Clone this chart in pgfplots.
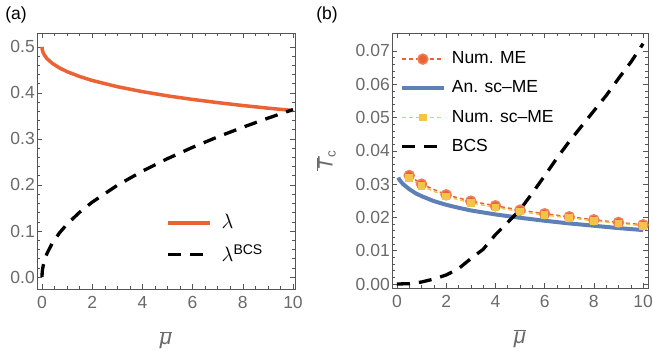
\documentclass[border=0pt]{standalone}
\usepackage{pgfplots}
\pgfplotsset{compat=1.18}
\usepackage{fontspec}
\setmainfont{Liberation Sans}
\definecolor{morange}{HTML}{EB6235}
\definecolor{mblue}{HTML}{5E81B5}
\definecolor{myellow}{HTML}{F2C447}
\definecolor{tickgray}{HTML}{6A6A6A}
\definecolor{framegray}{HTML}{555555}
\newcommand{\bigfont}{\fontsize{17.5}{21}\selectfont}
\pgfplotsset{
  mystyle/.style={
    scale only axis, anchor=south west,
    axis line style={framegray, line width=0.7pt},
    tick style={framegray, line width=0.5pt},
    major tick length=5pt, minor tick length=3pt,
    tick align=inside,
    scaled y ticks=false, scaled x ticks=false,
    xtick={0,2,4,6,8,10}, xticklabels={0,2,4,6,8,10},
    minor x tick num=3, minor y tick num=4,
    ticklabel style={font=\bigfont, text=tickgray},
    yticklabel style={inner sep=2pt},
    xticklabel style={inner sep=2pt, yshift=-5pt},
    xlabel={$\overline{\hbox{\itshape μ}}$},
    xlabel style={at={(axis description cs:0.5,-0.2)}, anchor=center, text=tickgray, font=\fontsize{22}{26}\selectfont},
    legend cell align=left,
    legend style={draw=none, fill=none, font=\bigfont, inner sep=0pt,
      nodes={inner sep=2pt}},
    legend image code/.code={\draw[mark repeat=2,mark phase=2,##1] plot coordinates {(0pt,0pt)(21pt,0pt)(42pt,0pt)};},
  }
}
\begin{document}
\bigfont
\begin{tikzpicture}[x=1pt,y=1pt]
\path[use as bounding box] (0,0) rectangle (653,357);
\node[font=\bigfont] at (16,342) {(a)};
\node[font=\bigfont] at (327,342) {(b)};
\begin{axis}[mystyle, at={(37pt,68pt)}, width=258pt, height=256pt,
  xmin=-0.2, xmax=10.08, ymin=-0.026, ymax=0.530,
  ytick={0,0.1,0.2,0.3,0.4,0.5}, yticklabels={0.0,0.1,0.2,0.3,0.4,0.5},
  legend style={at={(axis description cs:0.5,0.30)}, anchor=north west, row sep=9pt, column sep=8pt,
    font=\fontsize{22}{26}\selectfont},
]
\addplot[morange, line width=3.5pt] coordinates {
(0,0.5) (0.005,0.4958) (0.01,0.4940) (0.02,0.4916) (0.05,0.4868) (0.1,0.4816)
(0.2,0.4743) (0.4,0.4645) (0.7,0.4540) (1,0.4460) (1.5,0.4355) (2,0.4269)
(3,0.4134) (4,0.4026) (5,0.3935) (6,0.3857) (7,0.3788) (8,0.3725) (9,0.3668) (10,0.3616)};
\addlegendentry{$\lambda$}
\addplot[black, line width=3.3pt, dash pattern=on 13pt off 9pt] coordinates {
(0,0) (0.005,0.0081) (0.01,0.0115) (0.02,0.0163) (0.05,0.0257) (0.1,0.0364)
(0.2,0.0514) (0.4,0.0727) (0.7,0.0962) (1,0.115) (1.5,0.1408) (2,0.1626)
(3,0.1992) (4,0.2300) (5,0.2571) (6,0.2817) (7,0.3043) (8,0.3253) (9,0.3450) (10,0.3637)};
\addlegendentry{$\lambda^{\hbox{\fontsize{14}{16}\selectfont BCS}}$}
\end{axis}
\begin{axis}[mystyle, at={(392pt,69pt)}, width=256pt, height=255pt,
  xmin=-0.2, xmax=10.2, ymin=-0.0012, ymax=0.0754,
  ytick={0,0.01,0.02,0.03,0.04,0.05,0.06,0.07},
  yticklabels={0.00,0.01,0.02,0.03,0.04,0.05,0.06,0.07},
  ylabel={$\overline{\hbox{\itshape T}}_{\hbox{\fontsize{13.5}{15}\selectfont c}}$},
  ylabel style={at={(axis description cs:-0.258,0.5)}, anchor=center, rotate=0, text=tickgray, font=\fontsize{21}{25}\selectfont},
  legend style={at={(axis description cs:0.03,0.935)}, anchor=north west, row sep=10.5pt, column sep=4pt},
]
\addplot[morange, line width=1.5pt, dash pattern=on 4pt off 3pt, mark=*, mark size=5pt,
  mark options={solid, fill=morange, draw=morange!80!white}] coordinates {
(0.5,0.0326) (1,0.0300) (2,0.0268) (3,0.0249) (4,0.0235) (5,0.0222)
(6,0.0211) (7,0.0202) (8,0.0193) (9,0.0185) (10,0.0178)};
\addlegendentry{Num. ME}
\addplot[mblue, line width=4pt] coordinates {
(0.06,0.0320) (0.1,0.0313) (0.25,0.0300) (0.5,0.0285) (0.75,0.0273) (1,0.0264)
(1.5,0.0249) (2,0.0238) (2.5,0.0229) (3,0.0221) (4,0.0209) (5,0.0199)
(6,0.0190) (7,0.0182) (8,0.0175) (9,0.0168) (10,0.0162)};
\addlegendentry{An. sc--ME}
\addplot[myellow, line width=1.5pt, dash pattern=on 4pt off 3pt, mark=square*, mark size=3pt,
  mark options={solid, fill=myellow, draw=myellow}] coordinates {
(0.5,0.0318) (1,0.0294) (2,0.0263) (3,0.0244) (4,0.0230) (5,0.0218)
(6,0.0207) (7,0.0199) (8,0.0190) (9,0.0182) (10,0.0175)};
\addlegendentry{Num. sc--ME}
\addplot[black, line width=3.3pt, dash pattern=on 13pt off 9pt] coordinates {
(0,0) (0.5,0.0001) (1,0.0006) (1.5,0.0015) (2,0.0027) (2.5,0.0046) (3,0.0076)
(3.5,0.0104) (4,0.0148) (4.5,0.0185) (5,0.0223) (5.5,0.0273) (6,0.0325)
(6.5,0.0378) (7,0.0428) (7.5,0.0474) (8,0.0520) (8.5,0.0566) (9,0.0617)
(9.5,0.0666) (10,0.0722)};
\addlegendentry{BCS}
\end{axis}
\end{tikzpicture}
\end{document}
